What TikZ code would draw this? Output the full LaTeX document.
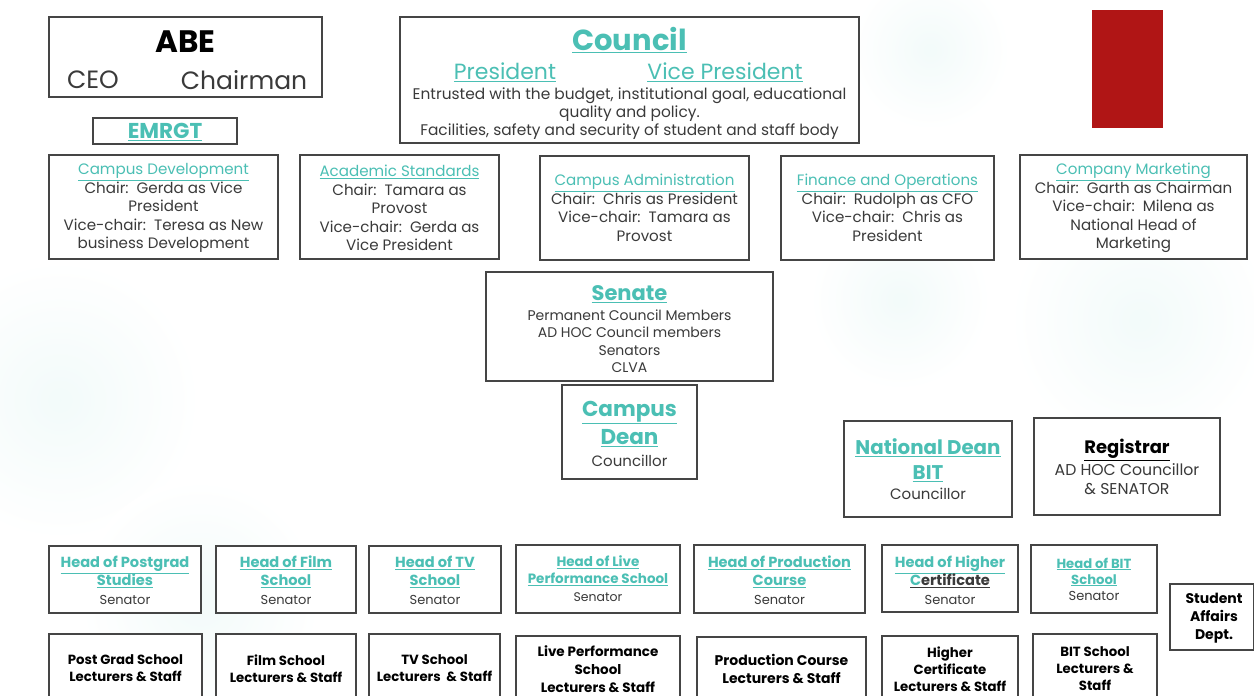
\documentclass[tikz,border=0pt]{standalone}
\usepackage{fontspec}
\setmainfont{Poppins}
\definecolor{tl}{HTML}{4BBFB4}
\definecolor{dk}{HTML}{3A3A3A}
\definecolor{bd}{HTML}{454545}
\definecolor{rd}{HTML}{B01515}
\newcommand{\tu}[1]{\textcolor{tl}{\underline{#1}}}
\tikzset{
  box/.style={draw=bd, line width=2.2pt, fill=white, inner sep=0pt},
  txt/.style={align=center, text=dk, inner sep=0pt},
  fs/.style={font=\fontsize{15.1}{18.5}\selectfont},
  fh/.style={font=\fontsize{14.6}{18}\selectfont},
  fb/.style={font=\bfseries\fontsize{13.3}{17}\selectfont, text=black},
}
\begin{document}
\begin{tikzpicture}[x=1pt,y=-1pt]
\useasboundingbox (0,0) rectangle (1254,696);
\clip (0,0) rectangle (1254,696);
% faint background clouds
\foreach \cx/\cy/\r in {930/50/80, 1140/320/130, 60/400/140, 200/600/120, 900/300/90}{
  \shade[inner color=tl!7, outer color=white] (\cx,\cy) circle (\r);
}
% ABE
\node[box, minimum width=273, minimum height=80] (abe) at (185.5,57) {};
\node[txt, text=black, font=\bfseries\fontsize{31}{36}\selectfont] (abet) at (185.5,42) {ABE};
\node[txt, font=\fontsize{25}{28}\selectfont] (ceo) at (93,80) {CEO};
\node[txt, font=\fontsize{25}{28}\selectfont] (chair) at (244,80) {Chairman};
% EMRGT
\node[box, minimum width=144, minimum height=26] (emr) at (165,131) {};
\node[txt, font=\bfseries\fontsize{21.5}{24}\selectfont] (emrt) at (165,132) {\tu{EMRGT}};
% Council
\node[box, minimum width=459, minimum height=126] (cou) at (629.5,80) {};
\node[txt, font=\bfseries\fontsize{29}{34}\selectfont] (cout) at (629.5,40) {\tu{Council}};
\node[txt, font=\fontsize{22}{25}\selectfont] (pres) at (505,72) {\tu{President}};
\node[txt, font=\fontsize{22}{25}\selectfont] (vpres) at (725,72) {\tu{Vice President}};
\node[txt, font=\fontsize{15.4}{18}\selectfont] (cout2) at (629.5,114) {Entrusted with the budget, institutional goal, educational\\quality and policy.\\Facilities, safety and security of student and staff body};
% red rectangle
\node[draw=none, fill=rd, minimum width=71, minimum height=118, inner sep=0pt] (red) at (1127.5,69) {};
% committees
\node[box, minimum width=229, minimum height=104] (cdev) at (163.5,207) {};
\node[txt, fs] (cdevt) at (163.5,208) {\tu{Campus Development}\\Chair:\ \ Gerda as Vice\\President\\Vice-chair:\ \ Teresa as New\\business Development};
\node[box, minimum width=199, minimum height=104] (acad) at (399.5,207) {};
\node[txt, fs] (acadt) at (399.5,208) {\tu{Academic Standards}\\Chair:\ \ Tamara as\\Provost\\Vice-chair:\ \ Gerda as\\Vice President};
\node[box, minimum width=209, minimum height=104] (cadm) at (644.5,208) {};
\node[txt, fs] (cadmt) at (644.5,208) {\tu{Campus Administration}\\Chair:\ \ Chris as President\\Vice-chair:\ \ Tamara as\\Provost};
\node[box, minimum width=213, minimum height=104] (fin) at (887.5,208) {};
\node[txt, fs] (fint) at (887.5,208) {\tu{Finance and Operations}\\Chair:\ \ Rudolph as CFO\\Vice-chair:\ \ Chris as\\President};
\node[box, minimum width=227, minimum height=104] (mkt) at (1133.5,207) {};
\node[txt, fs] (mktt) at (1133.5,208) {\tu{Company Marketing}\\Chair:\ \ Garth as Chairman\\Vice-chair:\ \ Milena as\\National Head of\\Marketing};
% Senate
\node[box, minimum width=287, minimum height=109] (sen) at (629.5,326.5) {};
\node[txt, font=\bfseries\fontsize{21}{24}\selectfont] (sent) at (629.5,294) {\tu{Senate}};
\node[txt, font=\fontsize{14}{17.5}\selectfont] (sen2) at (629.5,341) {Permanent Council Members\\AD HOC Council members\\Senators\\CLVA};
% Campus Dean
\node[box, minimum width=135, minimum height=94] (cd) at (629.5,432) {};
\node[txt, font=\bfseries\fontsize{21.5}{28}\selectfont] (cdt) at (629.5,424) {\tu{Campus}\\\tu{Dean}};
\node[txt, font=\fontsize{15}{18}\selectfont] (cd2) at (629.5,461) {Councillor};
% National Dean
\node[box, minimum width=168, minimum height=96] (nd) at (928,469) {};
\node[txt, font=\bfseries\fontsize{19.8}{25}\selectfont] (ndt) at (928,460.5) {\tu{National Dean}\\\tu{BIT}};
\node[txt, font=\fontsize{15}{18}\selectfont] (nd2) at (928,494) {Councillor};
% Registrar
\node[box, minimum width=186, minimum height=97] (reg) at (1127,466.5) {};
\node[txt, text=black, font=\bfseries\fontsize{18}{22}\selectfont] (regt) at (1127,450) {\underline{Registrar}};
\node[txt, font=\fontsize{15.7}{18.5}\selectfont] (reg2) at (1127,479) {AD HOC Councillor\\\& SENATOR};
% Heads row
\node[box, minimum width=152, minimum height=67] (h1) at (125,579.5) {};
\node[txt, fh] (h1t) at (125,572) {\textbf{\tu{Head of Postgrad}}\\\textbf{\tu{Studies}}};
\node[txt, font=\fontsize{13}{16}\selectfont] (h1s) at (125,600) {Senator};
\node[box, minimum width=140, minimum height=67] (h2) at (286,579.5) {};
\node[txt, fh] (h2t) at (286,572) {\textbf{\tu{Head of Film}}\\\textbf{\tu{School}}};
\node[txt, font=\fontsize{13}{16}\selectfont] (h2s) at (286,600) {Senator};
\node[box, minimum width=132, minimum height=67] (h3) at (435,579.5) {};
\node[txt, fh] (h3t) at (435,572) {\textbf{\tu{Head of TV}}\\\textbf{\tu{School}}};
\node[txt, font=\fontsize{13}{16}\selectfont] (h3s) at (435,600) {Senator};
\node[box, minimum width=164, minimum height=68] (h4) at (598,579) {};
\node[txt, font=\fontsize{13.5}{17}\selectfont] (h4t) at (598,571) {\textbf{\tu{Head of Live}}\\\textbf{\tu{Performance School}}};
\node[txt, font=\fontsize{12.5}{16}\selectfont] (h4s) at (598,597) {Senator};
\node[box, minimum width=171, minimum height=68] (h5) at (779.5,579) {};
\node[txt, fh] (h5t) at (779.5,572) {\textbf{\tu{Head of Production}}\\\textbf{\tu{Course}}};
\node[txt, font=\fontsize{13}{16}\selectfont] (h5s) at (779.5,600) {Senator};
\node[box, minimum width=136, minimum height=67] (h6) at (950,578.5) {};
\node[txt, fh] (h6t) at (950,572) {\textbf{\tu{Head of Higher}}\\\textbf{\underline{\textcolor{tl}{C}ertificate}}};
\node[txt, font=\fontsize{13}{16}\selectfont] (h6s) at (950,600) {Senator};
\node[box, minimum width=126, minimum height=68] (h7) at (1094,579) {};
\node[txt, font=\fontsize{13.2}{16}\selectfont] (h7t) at (1094,572) {\textbf{\tu{Head of BIT}}\\\textbf{\tu{School}}};
\node[txt, font=\fontsize{13}{16}\selectfont] (h7s) at (1094,596) {Senator};
\node[box, minimum width=84, minimum height=66] (sa) at (1212,617) {};
\node[txt, text=black, font=\bfseries\fontsize{14}{18}\selectfont] (sat) at (1214,618) {Student\\Affairs\\Dept.};
% Bottom row
\node[box, minimum width=153, minimum height=80] (b1) at (125.5,674) {};
\node[txt, fb] (b1t) at (125.5,668.5) {Post Grad School\\Lecturers \& Staff};
\node[box, minimum width=140, minimum height=80] (b2) at (286,674) {};
\node[txt, fb] (b2t) at (286,668.5) {Film School\\Lecturers \& Staff};
\node[box, minimum width=131, minimum height=80] (b3) at (434.5,674) {};
\node[txt, fb] (b3t) at (434.5,668.5) {TV School\\Lecturers \ \& Staff};
\node[box, minimum width=164, minimum height=80] (b4) at (598,676) {};
\node[txt, fb, font=\bfseries\fontsize{13.5}{18}\selectfont] (b4t) at (598,669) {Live Performance\\School\\Lecturers \& Staff};
\node[box, minimum width=169, minimum height=80] (b5) at (781.5,677) {};
\node[txt, fb, font=\bfseries\fontsize{14}{18}\selectfont] (b5t) at (781.5,669) {Production Course\\Lecturers \& Staff};
\node[box, minimum width=136, minimum height=80] (b6) at (950,676) {};
\node[txt, fb] (b6t) at (950,669.5) {Higher\\Certificate\\Lecturers \& Staff};
\node[box, minimum width=124, minimum height=80] (b7) at (1095,674) {};
\node[txt, fb] (b7t) at (1095,668.5) {BIT School\\Lecturers \&\\Staff};
\end{tikzpicture}
\end{document}
